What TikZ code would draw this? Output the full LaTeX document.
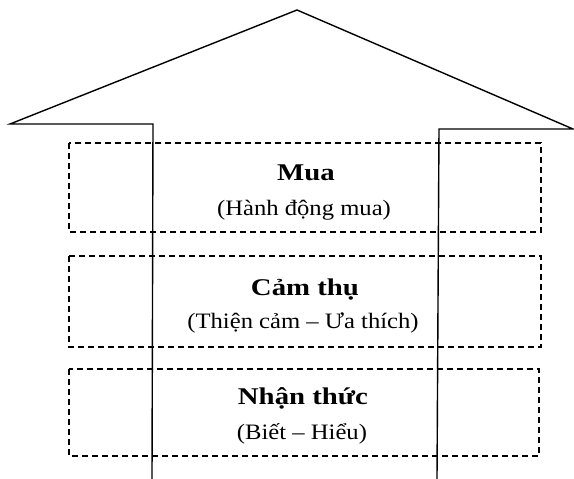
\documentclass[tikz,border=0pt]{standalone}
\usepackage{fontspec}
\setmainfont{Liberation Serif}
\newcommand\widetitle[1]{\scalebox{1.2}[1]{#1}}
\newcommand\widesub[1]{\scalebox{1.12}[1]{#1}}
\begin{document}
\begin{tikzpicture}[x=1pt,y=-1pt,
  roof/.style={line width=1.4pt, line join=miter},
  dbox/.style={draw, dashed, dash pattern=on 6pt off 4pt, line width=1.3pt},
  title/.style={anchor=base, inner sep=0pt, font=\fontsize{24}{28}\selectfont\bfseries},
  sub/.style={anchor=base, inner sep=0pt, font=\fontsize{22}{26}\selectfont}]
\useasboundingbox (0,0) rectangle (574,479);
% dashed boxes
\draw[dbox] (69,143) rectangle (541,232);
\draw[dbox] (69,256) rectangle (541,347);
\draw[dbox] (69,369) rectangle (539,456);
% house outline
\coordinate (lb) at (152,479);
\coordinate (ls) at (153,124);
\coordinate (lt) at (10,124);
\coordinate (ap) at (297,10);
\coordinate (rt) at (573,129);
\coordinate (rs) at (439,129);
\coordinate (rb) at (437,479);
\draw[roof] (lb) -- (ls) -- (lt) -- (ap) -- (rt) -- (rs) -- (rb);
% texts
\node[title] (t1) at (306,180) {\widetitle{Mua}};
\node[sub] (s1) at (304,215) {\widesub{(Hành động mua)}};
\node[title] (t2) at (305,295) {\widetitle{Cảm thụ}};
\node[sub] (s2) at (303,328) {\widesub{(Thiện cảm -- Ưa thích)}};
\node[title] (t3) at (303,404) {\widetitle{Nhận thức}};
\node[sub] (s3) at (302,439) {\widesub{(Biết -- Hiểu)}};
\end{tikzpicture}
\end{document}
